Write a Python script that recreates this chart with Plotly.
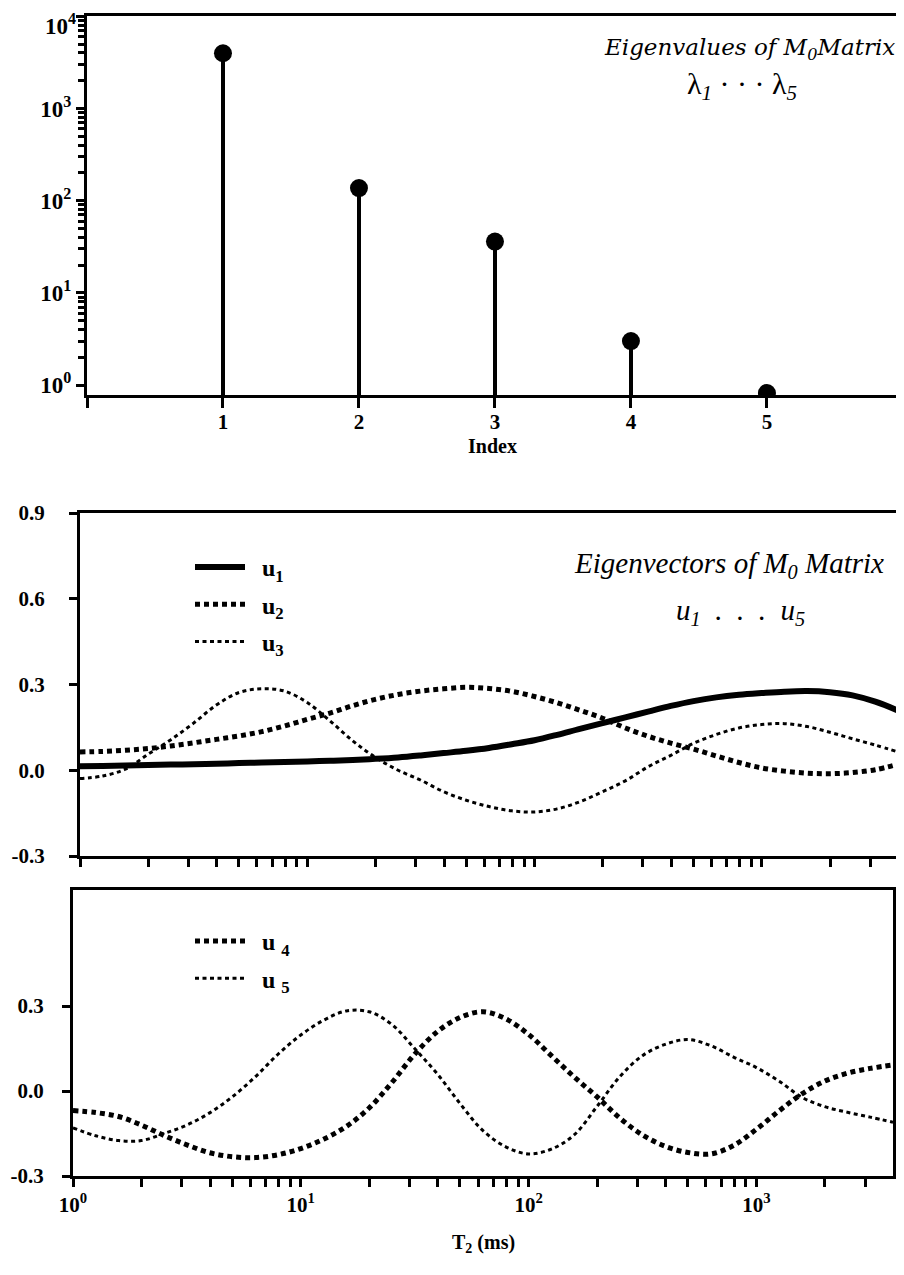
import plotly.graph_objects as go

# ---------------- data ----------------
eig_index = [1, 2, 3, 4, 5]
eigenvalues = [3970, 137, 36, 3.0, 0.82]

# log10 of T2 (ms) sample positions
log_t2 = [0.0, 0.1, 0.2, 0.3, 0.4, 0.5, 0.6, 0.7, 0.8, 0.9,
          1.0, 1.1, 1.2, 1.3, 1.4, 1.5, 1.6, 1.7, 1.8, 1.9,
          2.0, 2.1, 2.2, 2.3, 2.4, 2.5, 2.6, 2.7, 2.8, 2.9,
          3.0, 3.1, 3.2, 3.3, 3.4, 3.5, 3.6]

u1 = [0.014, 0.015, 0.017, 0.018, 0.020, 0.021, 0.023, 0.025, 0.027, 0.029,
      0.031, 0.033, 0.036, 0.040, 0.045, 0.052, 0.060, 0.068, 0.078, 0.091,
      0.105, 0.124, 0.145, 0.165, 0.185, 0.205, 0.225, 0.242, 0.255, 0.264,
      0.270, 0.275, 0.277, 0.273, 0.262, 0.240, 0.209]
u2 = [0.064, 0.066, 0.070, 0.076, 0.085, 0.096, 0.108, 0.120, 0.135, 0.155,
      0.178, 0.200, 0.226, 0.248, 0.265, 0.277, 0.285, 0.290, 0.286, 0.276,
      0.258, 0.236, 0.210, 0.182, 0.148, 0.119, 0.095, 0.074, 0.050, 0.027,
      0.008, -0.003, -0.010, -0.012, -0.008, 0.002, 0.021]
u3 = [-0.029, -0.020, 0.004, 0.056, 0.107, 0.165, 0.228, 0.272, 0.285, 0.277,
      0.237, 0.173, 0.103, 0.045, 0.000, -0.035, -0.075, -0.105, -0.127, -0.142,
      -0.146, -0.135, -0.110, -0.075, -0.037, 0.012, 0.052, 0.094, 0.125, 0.148,
      0.160, 0.163, 0.153, 0.133, 0.110, 0.088, 0.064]
u4 = [-0.069, -0.076, -0.090, -0.120, -0.157, -0.190, -0.218, -0.232, -0.235, -0.225,
      -0.203, -0.170, -0.125, -0.060, 0.030, 0.130, 0.210, 0.260, 0.280, 0.255,
      0.200, 0.125, 0.050, -0.020, -0.095, -0.155, -0.195, -0.217, -0.222, -0.192,
      -0.135, -0.070, -0.010, 0.035, 0.063, 0.080, 0.092]
u5 = [-0.130, -0.158, -0.175, -0.175, -0.150, -0.120, -0.077, -0.020, 0.050, 0.130,
      0.198, 0.250, 0.283, 0.280, 0.235, 0.150, 0.060, -0.045, -0.140, -0.197,
      -0.222, -0.205, -0.155, -0.055, 0.050, 0.125, 0.165, 0.182, 0.160, 0.120,
      0.083, 0.035, -0.022, -0.055, -0.075, -0.092, -0.110]

decade_vals = [1, 10, 100, 1000, 10000]
decade_text = ["10<sup>0</sup>", "10<sup>1</sup>", "10<sup>2</sup>", "10<sup>3</sup>", "10<sup>4</sup>"]
index_ticks = [0, 1, 2, 3, 4, 5]
index_text = ["", "1", "2", "3", "4", "5"]
mid_yticks = [0.9, 0.6, 0.3, 0.0, -0.3]
mid_ytext = ["0.9", "0.6", "0.3", "0.0", "-0.3"]
bot_yticks = [0.3, 0.0, -0.3]
bot_ytext = ["0.3", "0.0", "-0.3"]

t2 = [10 ** v for v in log_t2]

# page is shown with the browser's 8px body margin
OFF = 8
W, H = 904 - OFF, 1275 - 2 * OFF
def px_x(p):
    return (p - OFF) / W
def px_y(p):
    return 1 - (p - OFF) / H

SERIF = "Liberation Serif"
tickfont = dict(family=SERIF, size=21, color="black", weight="bold")
top_tickfont = dict(family=SERIF, size=23, color="black", weight="bold")
minor_log = [m * 10 ** d for d in range(0, 4) for m in range(2, 10)]
NB = "\u00a0\u00a0"

# the topmost decade label sits at the page edge; it is drawn as an annotation just below its tick
top_ticktext = decade_text[:-1] + [""]

fig = go.Figure()

# ---- top: eigenvalue stems ----
fig.add_trace(go.Bar(x=eig_index, y=eigenvalues, width=0.03,
                     marker=dict(color="black", line=dict(width=0)),
                     xaxis="x", yaxis="y", showlegend=False))
fig.add_trace(go.Scatter(x=eig_index, y=eigenvalues, mode="markers",
                         marker=dict(color="black", size=18),
                         xaxis="x", yaxis="y", showlegend=False))

# ---- middle: u1..u3 ----
fig.add_trace(go.Scatter(x=t2, y=u1, mode="lines", name=NB + "u<sub>1</sub>",
                         line=dict(color="black", width=6, shape="spline"),
                         xaxis="x2", yaxis="y2", legend="legend", legendgroup="a"))
fig.add_trace(go.Scatter(x=t2, y=u2, mode="lines", name=NB + "u<sub>2</sub>",
                         line=dict(color="black", width=5, dash="5px,4px", shape="spline"),
                         xaxis="x2", yaxis="y2", legend="legend", legendgroup="b"))
fig.add_trace(go.Scatter(x=t2, y=u3, mode="lines", name=NB + "u<sub>3</sub>",
                         line=dict(color="black", width=3, dash="4px,3.5px", shape="spline"),
                         xaxis="x2", yaxis="y2", legend="legend", legendgroup="c"))

# ---- bottom: u4, u5 ----
fig.add_trace(go.Scatter(x=t2, y=u4, mode="lines", name=NB + "u <sub>4</sub>",
                         line=dict(color="black", width=5, dash="5px,4px", shape="spline"),
                         xaxis="x3", yaxis="y3", legend="legend2", legendgroup="d"))
fig.add_trace(go.Scatter(x=t2, y=u5, mode="lines", name=NB + "u <sub>5</sub>",
                         line=dict(color="black", width=3, dash="4px,3.5px", shape="spline"),
                         xaxis="x3", yaxis="y3", legend="legend2", legendgroup="e"))

axis_common = dict(showline=True, linecolor="black", linewidth=3, showgrid=False,
                   zeroline=False, ticks="outside", tickcolor="black", tickwidth=2.5,
                   tickfont=tickfont, automargin=False)
title_font = dict(family=SERIF, size=20, color="black", weight="bold")

fig.update_layout(
    width=W, height=H,
    margin=dict(l=0, r=0, t=0, b=0, autoexpand=False),
    paper_bgcolor="white", plot_bgcolor="white",
    bargap=0,
    xaxis=dict(axis_common, domain=[px_x(87), px_x(904)], range=[0, 6.008], anchor="y",
               tickmode="array", tickvals=index_ticks, ticktext=index_text,
               ticklen=10, mirror=True, ticklabelstandoff=-4),
    yaxis=dict(axis_common, type="log", domain=[px_y(395), px_y(16)], range=[-0.108, 4.003],
               anchor="x", tickmode="array", tickvals=decade_vals, ticktext=top_ticktext,
               ticklen=8, tickfont=top_tickfont,
               minor=dict(tickmode="array", tickvals=minor_log, ticks="outside",
                          ticklen=6, tickwidth=2.5, tickcolor="black", showgrid=False)),
    xaxis2=dict(axis_common, type="log", domain=[px_x(80), px_x(898)], range=[0, 3.6],
                anchor="y2", mirror=True, showticklabels=False, ticklen=8,
                tickmode="array", tickvals=decade_vals[:4],
                minor=dict(tickmode="array", tickvals=minor_log, ticks="outside",
                           ticklen=8, tickwidth=2.5, tickcolor="black", showgrid=False)),
    yaxis2=dict(axis_common, domain=[px_y(856), px_y(513)], range=[-0.3, 0.9],
                anchor="x2", mirror=True, ticklen=8, tickmode="array",
                tickvals=mid_yticks, ticktext=mid_ytext, ticklabelstandoff=20),
    xaxis3=dict(axis_common, type="log", domain=[px_x(73), px_x(893)], range=[0, 3.6],
                anchor="y3", mirror=True, ticklen=8,
                tickmode="array", tickvals=decade_vals[:4], ticktext=decade_text[:4],
                ticklabelstandoff=0,
                minor=dict(tickmode="array", tickvals=minor_log, ticks="outside",
                           ticklen=8, tickwidth=2.5, tickcolor="black", showgrid=False)),
    yaxis3=dict(axis_common, domain=[px_y(1176), px_y(890)], range=[-0.3, 0.71],
                anchor="x3", mirror=True, ticklen=8, tickmode="array",
                tickvals=bot_yticks, ticktext=bot_ytext, ticklabelstandoff=14),
    legend=dict(x=px_x(190), y=px_y(545), xanchor="left", yanchor="top",
                bgcolor="rgba(0,0,0,0)", itemwidth=50, tracegroupgap=3,
                font=dict(family=SERIF, size=24, color="black", weight="bold")),
    legend2=dict(x=px_x(190), y=px_y(919), xanchor="left", yanchor="top",
                 bgcolor="rgba(0,0,0,0)", itemwidth=50, tracegroupgap=3,
                 font=dict(family=SERIF, size=24, color="black", weight="bold")),
    annotations=[
        dict(text=decade_text[-1], xref="paper", yref="paper",
             x=px_x(78), y=px_y(24), xanchor="right", yanchor="middle", showarrow=False,
             font=top_tickfont),
        dict(text="Index", xref="paper", yref="paper",
             x=px_x(492), y=px_y(446), xanchor="center", yanchor="middle", showarrow=False,
             font=title_font),
        dict(text="T<sub>2</sub> (ms)", xref="paper", yref="paper",
             x=px_x(483), y=px_y(1243), xanchor="center", yanchor="middle", showarrow=False,
             font=title_font),
        dict(text="<i>Eigenvalues of M<sub>0</sub>Matrix</i>", xref="paper", yref="paper",
             x=px_x(897), y=px_y(49), xanchor="right", yanchor="middle", showarrow=False,
             font=dict(family="DejaVu Serif", size=23, color="black")),
        dict(text="λ<sub><i>1</i></sub> · · · λ<sub><i>5</i></sub>", xref="paper", yref="paper",
             x=px_x(742), y=px_y(86), xanchor="center", yanchor="middle", showarrow=False,
             font=dict(family=SERIF, size=30, color="black")),
        dict(text="<i>Eigenvectors of M<sub>0</sub> Matrix</i>", xref="paper", yref="paper",
             x=px_x(886), y=px_y(565), xanchor="right", yanchor="middle", showarrow=False,
             font=dict(family=SERIF, size=29, color="black")),
        dict(text="<i>u<sub>1</sub>  .  .  .  u<sub>5</sub></i>", xref="paper", yref="paper",
             x=px_x(740), y=px_y(612), xanchor="center", yanchor="middle", showarrow=False,
             font=dict(family=SERIF, size=29, color="black")),
    ],
)

fig.write_html("out.html")
